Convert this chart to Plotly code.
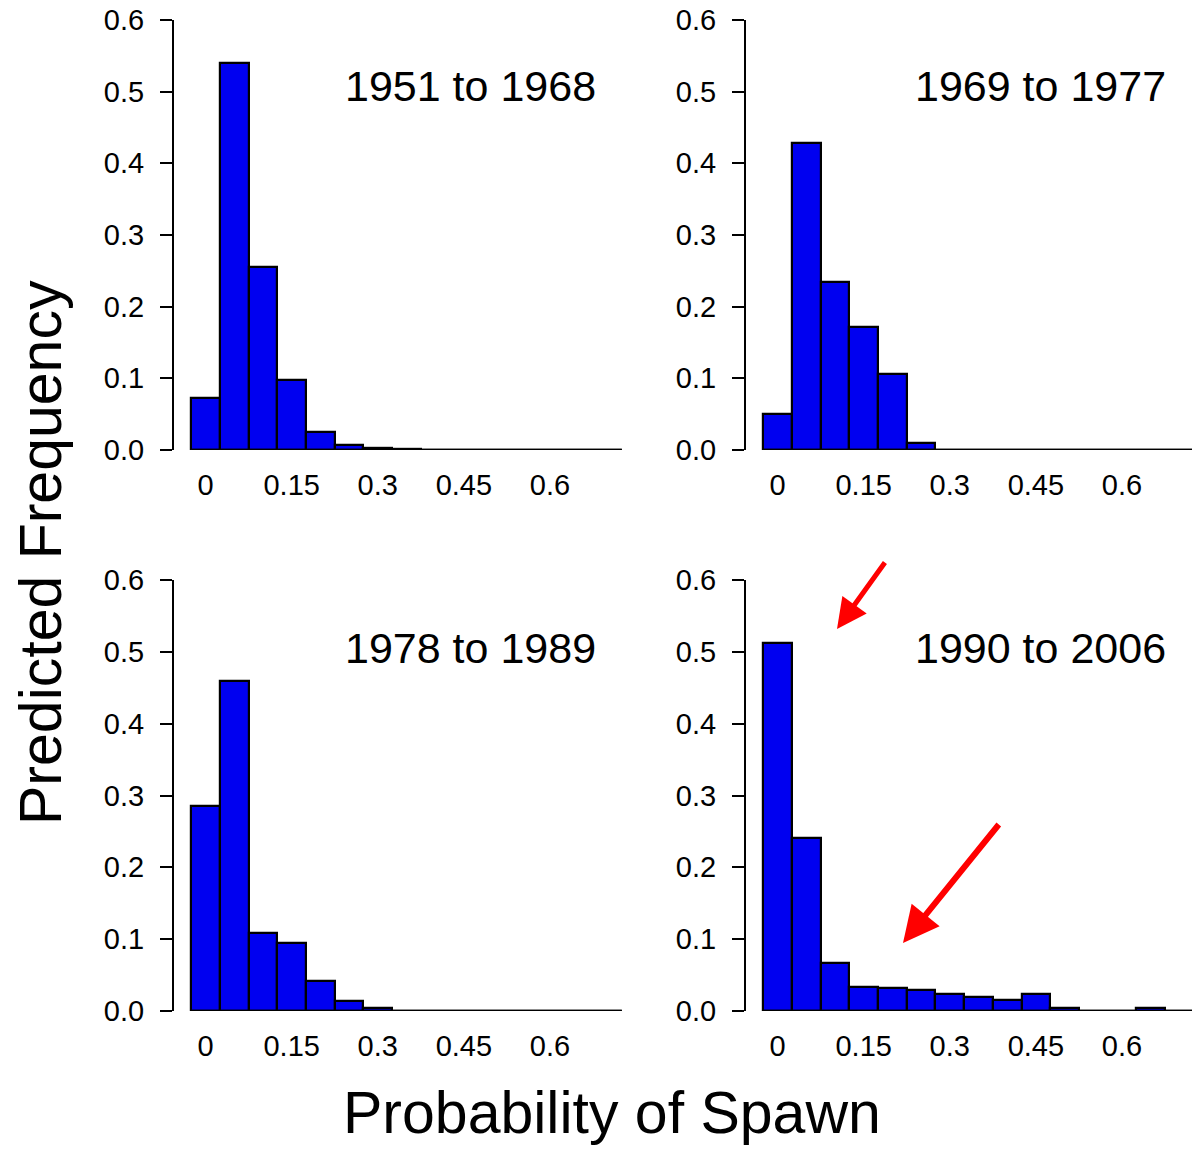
import plotly.graph_objects as go

# ---- data ----
bin_centers = [0.00, 0.05, 0.10, 0.15, 0.20, 0.25, 0.30, 0.35, 0.40, 0.45, 0.50, 0.55, 0.60, 0.65, 0.70]
bin_width = 0.05

freq_1951_1968 = [0.073, 0.540, 0.255, 0.098, 0.025, 0.007, 0.003, 0.002, 0, 0, 0, 0, 0, 0, 0]
freq_1969_1977 = [0.050, 0.428, 0.234, 0.172, 0.106, 0.010, 0, 0, 0, 0, 0, 0, 0, 0, 0]
freq_1978_1989 = [0.285, 0.459, 0.108, 0.094, 0.042, 0.014, 0.004, 0, 0, 0, 0, 0, 0, 0, 0]
freq_1990_2006 = [0.512, 0.241, 0.067, 0.034, 0.032, 0.029, 0.024, 0.019, 0.015, 0.023, 0.004, 0, 0, 0.004, 0]

panel_titles = ["1951 to 1968", "1969 to 1977", "1978 to 1989", "1990 to 2006"]
panel_data = [freq_1951_1968, freq_1969_1977, freq_1978_1989, freq_1990_2006]

x_tickvals = [0, 0.15, 0.3, 0.45, 0.6]
x_ticktext = ["0", "0.15", "0.3", "0.45", "0.6"]
y_tickvals = [0.0, 0.1, 0.2, 0.3, 0.4, 0.5, 0.6]

# ---- layout geometry ----
W, H = 1192, 1149
FONT = "Liberation Sans, Arial, sans-serif"
BLUE = "#0000F0"
PX_PER_UNIT = 574.0
XMIN = -0.055

# panel domains in pixels: (left, right, top, bottom)
panels_px = [
    (174, 625, 20, 450),
    (746, 1192, 20, 450),
    (174, 625, 580, 1011),
    (746, 1192, 580, 1011),
]
title_pos = [(598, 86), (1168, 86), (598, 648), (1168, 648)]

fig = go.Figure()
edge_lo = bin_centers[0] - bin_width / 2
edge_hi = bin_centers[-1] + bin_width / 2

for i, (vals, (l, r, t, b)) in enumerate(zip(panel_data, panels_px)):
    n = i + 1
    xa = "x" if n == 1 else f"x{n}"
    ya = "y" if n == 1 else f"y{n}"
    fig.add_trace(go.Bar(
        x=bin_centers, y=vals, width=bin_width,
        marker=dict(color=BLUE, line=dict(color="black", width=2.2)),
        xaxis=xa, yaxis=ya, cliponaxis=False, showlegend=False,
    ))
    # histogram baseline (empty bins)
    fig.add_trace(go.Scatter(
        x=[edge_lo, edge_hi], y=[0, 0], mode="lines",
        line=dict(color="black", width=2.6),
        xaxis=xa, yaxis=ya, cliponaxis=False, showlegend=False, hoverinfo="skip",
    ))
    xmax = XMIN + (r - l) / PX_PER_UNIT
    xkey = "xaxis" if n == 1 else f"xaxis{n}"
    ykey = "yaxis" if n == 1 else f"yaxis{n}"
    fig.update_layout(**{
        xkey: dict(
            domain=[l / W, r / W], range=[XMIN, xmax], anchor=ya,
            tickvals=x_tickvals, ticktext=x_ticktext, ticks="",
            showline=False, showgrid=False, zeroline=False,
            tickfont=dict(family=FONT, size=29, color="black"),
            ticklabelstandoff=15, automargin=False,
        ),
        ykey: dict(
            domain=[1 - b / H, 1 - t / H], range=[0, 0.6], anchor=xa,
            tickvals=y_tickvals, tickformat=".1f", ticks="outside",
            ticklen=12, tickwidth=2, tickcolor="black",
            showline=True, linecolor="black", linewidth=2,
            showgrid=False, zeroline=False,
            tickfont=dict(family=FONT, size=29, color="black"),
            ticklabelstandoff=10, automargin=False,
        ),
    })

annotations = []
for title, (tx, ty) in zip(panel_titles, title_pos):
    annotations.append(dict(
        text=title, x=tx / W, y=1 - ty / H, xref="paper", yref="paper",
        xanchor="right", yanchor="middle", showarrow=False,
        font=dict(family=FONT, size=43, color="black"),
    ))

annotations.append(dict(
    text="Predicted Frequency", x=41 / W, y=1 - 553 / H, xref="paper", yref="paper",
    xanchor="center", yanchor="middle", textangle=-90, showarrow=False,
    font=dict(family=FONT, size=59, color="black"),
))
annotations.append(dict(
    text="Probability of Spawn", x=612 / W, y=1 - 1113 / H, xref="paper", yref="paper",
    xanchor="center", yanchor="middle", showarrow=False,
    font=dict(family=FONT, size=59, color="black"),
))

# red arrows (tip, tail) in pixels
arrows = [((837, 629), (886, 561), 5), ((903, 943), (1000, 823), 6)]
for (tipx, tipy), (tailx, taily), w in arrows:
    annotations.append(dict(
        text="", x=tipx / W, y=1 - tipy / H, xref="paper", yref="paper",
        ax=tailx - tipx, ay=taily - tipy, axref="pixel", ayref="pixel",
        showarrow=True, arrowhead=2, arrowsize=1.2, arrowwidth=w, arrowcolor="#FF0000",
    ))

fig.update_layout(
    width=W, height=H, margin=dict(l=0, r=0, t=0, b=0, pad=0, autoexpand=False),
    paper_bgcolor="white", plot_bgcolor="white",
    bargap=0, annotations=annotations,
)

fig.write_html("out.html")
